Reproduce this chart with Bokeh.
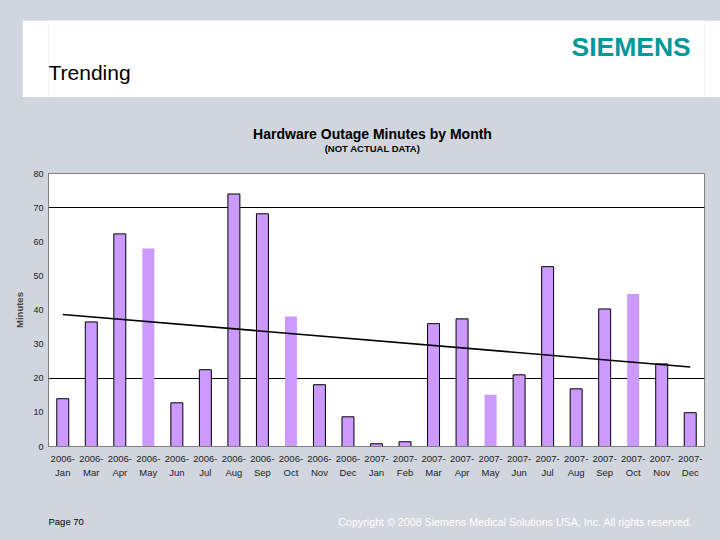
from bokeh.plotting import figure
from bokeh.layouts import column, row
from bokeh.models import (Range1d, FactorRange, FixedTicker, CategoricalAxis, ColumnDataSource,
                          CustomJSTickFormatter, Spacer)
from bokeh.core.properties import value
from bokeh.embed import file_html
from bokeh.resources import INLINE

# ---- data ----
months = ["2006-Jan", "2006-Mar", "2006-Apr", "2006-May", "2006-Jun", "2006-Jul",
          "2006-Aug", "2006-Sep", "2006-Oct", "2006-Nov", "2006-Dec",
          "2007-Jan", "2007-Feb", "2007-Mar", "2007-Apr", "2007-May", "2007-Jun",
          "2007-Jul", "2007-Aug", "2007-Sep", "2007-Oct", "2007-Nov", "2007-Dec"]
minutes = [14, 36.5, 62.3, 58, 12.8, 22.5, 74, 68.2, 38.1, 18.1, 8.7,
           0.8, 1.4, 36, 37.4, 15.2, 21, 52.7, 16.9, 40.3, 44.7, 24.2, 9.9]
unframed_months = ["2006-May", "2006-Oct", "2007-May", "2007-Oct"]
trend_values = [38.7, 23.3]          # trend line at first and last month
y_ticks = [0, 10, 20, 30, 40, 50, 60, 70, 80]
grid_values = [20, 70]

title_text = "Hardware Outage Minutes by Month"
subtitle_text = "(NOT ACTUAL DATA)"
y_label = "Minutes"
header_text = "Trending"
logo_text = "SIEMENS"
page_text = "Page 70"
copyright_text = "Copyright \u00a9 2008 Siemens Medical Solutions USA, Inc. All rights reserved."

BG = "#d1d5dd"
FONT = "Liberation Sans"
W = 720
LEFT, RIGHT = 48, 16          # borders shared by every strip so the frames line up


def strip(width, height, y_top, y_bottom, fill, left=LEFT, right=RIGHT):
    """Decoration strip whose data coordinates are the slide's pixel coordinates."""
    f = figure(width=width, height=height, x_range=Range1d(LEFT, W - RIGHT),
               y_range=Range1d(y_bottom, y_top),
               output_backend="svg", toolbar_location=None,
               min_border_left=left, min_border_right=right, min_border_top=0, min_border_bottom=0,
               x_axis_location=None, y_axis_location=None)
    f.grid.visible = False
    f.outline_line_color = None
    f.background_fill_color = fill
    f.border_fill_color = fill
    return f


def txt(f, x, y, text, size, color="black", style="normal", align="left", font=FONT):
    f.text(x=[x], y=[y], text=[text], text_font=value(font), text_font_size=size,
           text_color=color, text_font_style=style, text_align=align,
           text_baseline="middle")


# ---- white header band (slide x 22..720, y 20..97) ----
band = strip(W - 22, 77, 20, 97, "white", left=LEFT - 22)
txt(band, 48, 72, header_text, "21px")
txt(band, 571, 46, logo_text, "26.5px", color="#009999", style="bold")

# ---- chart title strip (slide y 97..163) ----
head = strip(W, 66, 97, 163, BG)
txt(head, 372, 133, title_text, "14px", style="bold", align="center")
txt(head, 372, 147.5, subtitle_text, "9.5px", style="bold", align="center")

# ---- chart (slide y 163..490, frame 173..446) ----
p = figure(width=W, height=327, x_range=FactorRange(*months), y_range=Range1d(0, 80),
           output_backend="svg", toolbar_location=None,
           min_border_left=LEFT, min_border_right=RIGHT, min_border_top=10, min_border_bottom=44)
p.border_fill_color = BG
p.background_fill_color = "white"
p.outline_line_color = "#808080"

framed = [m for m in months if m not in unframed_months]
src_framed = ColumnDataSource(dict(x=framed, y=[minutes[months.index(m)] for m in framed]))
src_plain = ColumnDataSource(dict(x=unframed_months, y=[minutes[months.index(m)] for m in unframed_months]))

p.vbar(x="x", top="y", width=0.42, source=src_framed, fill_color="#cc99ff",
       line_color="black", line_width=1)
p.vbar(x="x", top="y", width=0.42, source=src_plain, fill_color="#cc99ff", line_color=None)
p.line(x=[months[0], months[-1]], y=trend_values, line_color="black", line_width=1.6)

p.yaxis.ticker = FixedTicker(ticks=y_ticks)
p.yaxis.major_tick_line_color = None
p.yaxis.major_tick_out = 0
p.yaxis.minor_tick_line_color = None
p.yaxis.axis_line_color = "#808080"
p.yaxis.major_label_standoff = 5
p.yaxis.major_label_text_font = FONT
p.yaxis.major_label_text_font_size = "9px"
p.yaxis.major_label_text_color = "#222222"
p.yaxis.axis_label = y_label
p.yaxis.axis_label_standoff = 5
p.yaxis.axis_label_text_font = FONT
p.yaxis.axis_label_text_font_size = "9.5px"
p.yaxis.axis_label_text_font_style = "bold"

# two stacked category axes: "2006-" on top, month name beneath
p.xaxis.formatter = CustomJSTickFormatter(code="return tick.split('-')[0] + '-';")
p.xaxis.major_tick_line_color = None
p.xaxis.major_tick_out = 0
p.xaxis.axis_line_color = "#808080"
p.xaxis.major_label_standoff = 9
p.xaxis.major_label_text_font = FONT
p.xaxis.major_label_text_font_size = "9.5px"
p.xaxis.major_label_text_color = "#222222"

ax2 = CategoricalAxis(formatter=CustomJSTickFormatter(code="return tick.split('-')[1];"),
                      major_tick_line_color=None, major_tick_out=0, axis_line_color=None,
                      major_label_standoff=2, major_label_text_font=FONT,
                      major_label_text_font_size="9.5px", major_label_text_color="#222222")
p.add_layout(ax2, "below")

p.xgrid.grid_line_color = None
p.ygrid.ticker = FixedTicker(ticks=grid_values)
p.ygrid.grid_line_color = "black"

# ---- footer strip (slide y 490..540) ----
foot = strip(W, 50, 490, 540, BG)
txt(foot, 48, 521, page_text, "9.5px")
txt(foot, 692, 521, copyright_text, "10.7px", color="white", align="right")

layout = column(Spacer(width=W, height=20),
                row(Spacer(width=22, height=77), band, spacing=0),
                head, p, foot, spacing=0)
layout.styles = {"background-color": BG}

open("out.html", "w").write(file_html(layout, INLINE))
